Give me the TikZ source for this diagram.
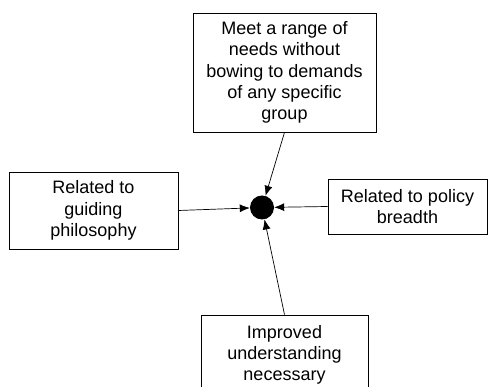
\documentclass[tikz,border=0pt]{standalone}
\usepackage{fontspec}
\setmainfont{Liberation Sans}
\usetikzlibrary{arrows.meta}

\begin{document}
\begin{tikzpicture}[x=1pt,y=1pt,yscale=-1,xscale=1,
  factor/.style={draw,line width=0.8pt,align=center,inner sep=0pt,
    font=\fontsize{18}{21.3}\selectfont},
  link/.style={line width=0.7pt,-{Latex[length=10pt,width=8pt]}}]
%set diagram from 0 to 490, height of 387
\path[use as bounding box,clip] (0,0) rectangle (490,387);

%Shape: Circle [id:dot]
\node[circle,fill,inner sep=0pt,minimum size=24pt] (dot) at (262,207.5) {};
%Shape: Rectangle [id:needs]
\node[factor,minimum width=183pt,minimum height=119pt] (needs) at (284.5,72.5)
  {Meet a range of\\needs without\\bowing to demands\\of any specific\\group};
%Shape: Rectangle [id:philosophy]
\node[factor,minimum width=169pt,minimum height=77pt] (philosophy) at (93.5,210.5)
  {Related to\\guiding\\philosophy};
%Shape: Rectangle [id:breadth]
\node[factor,minimum width=159pt,minimum height=55pt] (breadth) at (407.5,206.5)
  {Related to policy\\breadth};
%Shape: Rectangle [id:understanding]
\node[factor,minimum width=167pt,minimum height=80pt] (understanding) at (284.5,355)
  {Improved\\understanding\\necessary};

%Straight Lines [id:needs-dot]
\draw[link] (needs.south) -- (dot);
%Straight Lines [id:philosophy-dot]
\draw[link] (philosophy.east) -- (dot);
%Straight Lines [id:breadth-dot]
\draw[link] (breadth.west) -- (dot);
%Straight Lines [id:understanding-dot]
\draw[link] (understanding.north) -- (dot);

\end{tikzpicture}
\end{document}
